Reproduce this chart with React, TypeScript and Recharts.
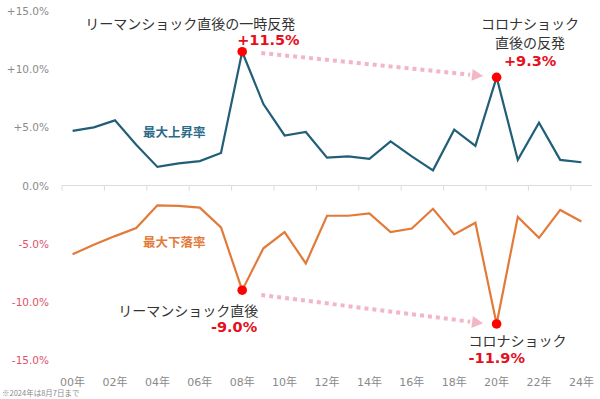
import { LineChart, Line, XAxis, YAxis, ReferenceLine, ReferenceDot } from "recharts";

// 年（2000〜2024）
const years = ["00", "01", "02", "03", "04", "05", "06", "07", "08", "09", "10", "11", "12",
  "13", "14", "15", "16", "17", "18", "19", "20", "21", "22", "23", "24"];

// 最大上昇率 (%)
const maxRise = [4.7, 5.0, 5.6, 3.5, 1.6, 1.9, 2.1, 2.8, 11.5, 7.0, 4.3, 4.6, 2.4,
  2.5, 2.3, 3.8, 2.5, 1.3, 4.8, 3.4, 9.3, 2.2, 5.4, 2.2, 2.0];

// 最大下落率 (%)
const maxDrop = [-5.9, -5.1, -4.35, -3.65, -1.7, -1.75, -1.9, -3.6, -9.0, -5.4, -4.0, -6.7, -2.6,
  -2.6, -2.4, -4.0, -3.7, -2.0, -4.2, -3.2, -11.9, -2.7, -4.5, -2.1, -3.1];

const yTicks = [-15, -10, -5, 0, 5, 10, 15];
const xTicks = [0, 2, 4, 6, 8, 10, 12, 14, 16, 18, 20, 22, 24];
const catEdges = [-0.5, 1.5, 3.5, 5.5, 7.5, 9.5, 11.5, 13.5, 15.5, 17.5, 19.5, 21.5, 23.5];

const data = years.map((y, i) => ({ x: i, year: y, rise: maxRise[i], drop: maxDrop[i] }));

const LATIN = "'DejaVu Sans', 'Noto Sans CJK JP', sans-serif";
const JP = "'Noto Sans CJK JP', sans-serif";
const RED = "#e60f1e";
const TEAL = "#215f78";
const ORANGE = "#e27a3a";
const PINK = "#f4b5c5";

const fmtPct = (v) => (v > 0 ? "+" : "") + v.toFixed(1) + "%";

function YTick({ x, y, payload }) {
  const v = payload.value;
  return (
    <text x={x} y={y} textAnchor="end" dominantBaseline="central" fontSize={10.5}
      fontFamily={LATIN} fill={v < 0 ? "#e0506a" : "#8a8a8a"}>
      {fmtPct(v)}
    </text>
  );
}

function XTick({ x, y, payload }) {
  return (
    <text x={x} y={y} textAnchor="middle" dominantBaseline="central" fontSize={11}
      fontFamily={LATIN} fill="#8a8a8a">
      {years[payload.value]}年
    </text>
  );
}

function arrow(p) {
  const { x1, y1, x2, y2 } = p;
  const a = Math.atan2(y2 - y1, x2 - x1);
  const L = 11, W = 6;
  const bx = x2 - L * Math.cos(a), by = y2 - L * Math.sin(a);
  const nx = -Math.sin(a), ny = Math.cos(a);
  return (
    <g>
      <line x1={x1} y1={y1} x2={bx - 2 * Math.cos(a)} y2={by - 2 * Math.sin(a)}
        stroke={PINK} strokeWidth={4} strokeDasharray="4 4" />
      <polygon points={`${x2},${y2} ${bx + nx * W},${by + ny * W} ${bx - nx * W},${by - ny * W}`} fill={PINK} />
    </g>
  );
}

// 注記つきの赤い点
const note = (lines, pct, layout) => (p) => {
  const { cx, cy } = p;
  return (
    <g>
      <circle cx={cx} cy={cy} r={4.8} fill="#ff0000" />
      {lines.map((t, i) => (
        <text key={i} x={cx + layout.tx} y={cy + layout.ty + i * 19} textAnchor={layout.anchor}
          dominantBaseline="central" fontSize={14} fontFamily={JP} fill="#333">
          {t}
        </text>
      ))}
      <text x={cx + layout.px} y={cy + layout.py} textAnchor={layout.panchor}
        dominantBaseline="central" fontSize={14.5} fontWeight="bold" fontFamily={LATIN} fill={RED}>
        {pct}
      </text>
    </g>
  );
};

const seriesLabel = (t, color) => (p) => (
  <text x={p.cx} y={p.cy} textAnchor="middle" dominantBaseline="central" fontSize={12.5}
    fontWeight="bold" fontFamily={JP} fill={color}>
    {t}
  </text>
);

export default function App() {
  return (
    <div style={{ position: "absolute", left: 0, top: 0, width: 600, height: 399, background: "#fff" }}>
      <LineChart width={600} height={399} data={data} margin={{ top: 11, right: 8, bottom: 0, left: 0 }}>
        <XAxis dataKey="x" type="number" domain={[-0.5, 24.5]} ticks={xTicks} height={39}
          axisLine={false} tickLine={false} tickSize={6} tickMargin={16} tick={<XTick />} />
        <YAxis type="number" domain={[-15, 15]} ticks={yTicks} width={62}
          axisLine={false} tickLine={false} tickSize={6} tickMargin={7} tick={<YTick />} />
        <ReferenceLine y={0} stroke="#dcdcdc" strokeWidth={1} />
        {catEdges.map((e) => (
          <ReferenceLine key={e} segment={[{ x: e, y: 0 }, { x: e, y: -0.45 }]} stroke="#dcdcdc" />
        ))}
        <ReferenceLine segment={[{ x: 8.9, y: 11.39 }, { x: 19.36, y: 9.41 }]} shape={arrow} />
        <ReferenceLine segment={[{ x: 8.9, y: -9.41 }, { x: 19.36, y: -11.85 }]} shape={arrow} />
        <Line dataKey="rise" stroke={TEAL} strokeWidth={2.2} dot={false} isAnimationActive={false} />
        <Line dataKey="drop" stroke={ORANGE} strokeWidth={2.2} dot={false} isAnimationActive={false} />
        <ReferenceDot x={4.8} y={4.6} r={0} shape={seriesLabel("最大上昇率", "#2b6a88")} />
        <ReferenceDot x={4.8} y={-4.83} r={0} shape={seriesLabel("最大下落率", ORANGE)} />
        <ReferenceDot x={8} y={11.5} shape={note(["リーマンショック直後の一時反発"], "+11.5%",
          { tx: -52, ty: -29, anchor: "middle", px: -5, py: -12, panchor: "start" })} />
        <ReferenceDot x={20} y={9.3} shape={note(["コロナショック", "直後の反発"], "+9.3%",
          { tx: 33.5, ty: -54, anchor: "middle", px: 33.5, py: -16, panchor: "middle" })} />
        <ReferenceDot x={8} y={-9.0} shape={note(["リーマンショック直後"], "-9.0%",
          { tx: 16, ty: 20, anchor: "end", px: 15, py: 37, panchor: "end" })} />
        <ReferenceDot x={20} y={-11.9} shape={note(["コロナショック"], "-11.9%",
          { tx: -28, ty: 16, anchor: "start", px: -28, py: 34, panchor: "start" })} />
      </LineChart>
      <div style={{ position: "absolute", left: 2, top: 387, fontSize: 7.5, fontFamily: JP, color: "#8a8a8a", whiteSpace: "nowrap" }}>
        ※2024年は8月7日まで
      </div>
    </div>
  );
}
